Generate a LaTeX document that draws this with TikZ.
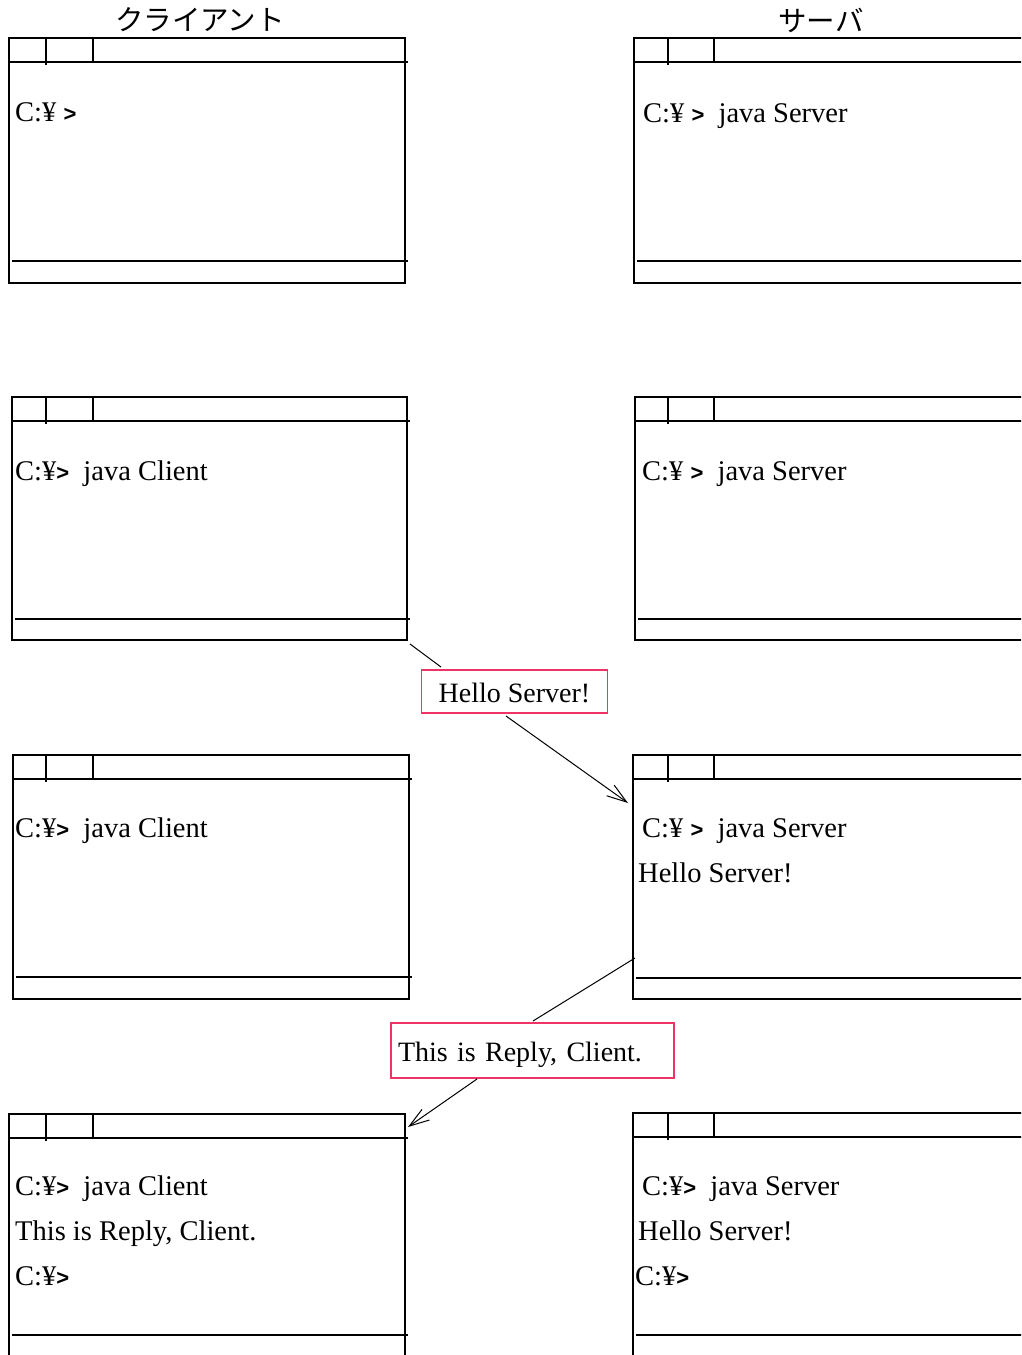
\documentclass[tikz,border=0pt]{standalone}
\usepackage{fontspec}
\setmainfont{Liberation Serif}
\setsansfont{Liberation Sans}
\newfontfamily\jpfont{Noto Sans CJK JP}
\usetikzlibrary{arrows.meta}
\definecolor{msgpink}{RGB}{238,51,102}
\tikzset{
  winbox/.style={draw=black, line width=2pt, inner sep=0pt, outer sep=0pt, anchor=north west},
  winline/.style={draw=black, line width=2pt},
  wtext/.style={anchor=base west, inner sep=0pt, font=\fontsize{28.5}{34}\selectfont},
  title/.style={inner sep=0pt, font=\jpfont\fontsize{28.5}{34}\selectfont},
  msgbox/.style={draw=msgpink, line width=1.6pt, inner ysep=0pt, text height=21pt, text depth=0pt, font=\fontsize{28}{34}\selectfont},
  conn/.style={draw=black, line width=1pt},
  connarrow/.style={conn, -{Straight Barb[length=20pt, width=13pt, line width=1pt]}}
}
\newcommand{\gt}{{\sffamily\bfseries\fontsize{22}{30}\selectfont >}}
% name, left, top, right, bottom, divider1 x, divider2 x, status line y
\newcommand{\mywin}[8]{%
  \node[winbox, minimum width={(#4)-(#2)}, minimum height={(#5)-(#3)}] (#1) at (#2,#3) {};
  \draw[winline] ([xshift=1pt,yshift=-24pt]#1.north west) -- ([xshift=2.5pt,yshift=-24pt]#1.north east);
  \draw[winline] (#6,#3) -- (#6,{(#3)+27});
  \draw[winline] (#7,#3) -- (#7,{(#3)+24});
  \draw[winline] ({(#2)+3},#8) -- ({(#4)+2.5},#8);
}
\begin{document}
\begin{tikzpicture}[x=1pt,y=-1pt]
\useasboundingbox (0,0) rectangle (1021,1355);
\clip (0,0) rectangle (1021,1355);
% titles
\node[title] (tclient) at (200,20) {クライアント};
\node[title] (tserver) at (821,20) {サーバ};
% windows
\mywin{c1}{9}{38}{405}{283}{46}{93}{261}
\mywin{s1}{634}{38}{1045}{283}{668}{714}{261}
\mywin{c2}{12}{397}{407}{640}{46}{93}{619}
\mywin{s2}{635}{397}{1045}{640}{668}{714}{619}
\mywin{c3}{13}{755}{409}{999}{46}{93}{977}
\mywin{s3}{633}{755}{1045}{999}{668}{714}{978}
\mywin{c4}{9}{1114}{405}{1380}{46}{93}{1335}
\mywin{s4}{633}{1113}{1045}{1380}{668}{714}{1335}
% texts
\node[wtext] (c1t1) at (15,121) {C:¥ \gt};
\node[wtext] (s1t1) at (643,122) {C:¥ \gt\ \ java Server};
\node[wtext] (c2t1) at (15,480) {C:¥\gt\ \ java Client};
\node[wtext] (s2t1) at (642,480) {C:¥ \gt\ \ java Server};
\node[wtext] (c3t1) at (15,837) {C:¥\gt\ \ java Client};
\node[wtext] (s3t1) at (642,837) {C:¥ \gt\ \ java Server};
\node[wtext] (s3t2) at (638,882) {Hello Server!};
\node[wtext] (c4t1) at (15,1195) {C:¥\gt\ \ java Client};
\node[wtext] (c4t2) at (15,1240) {This is Reply, Client.};
\node[wtext] (c4t3) at (15,1285) {C:¥\gt};
\node[wtext] (s4t1) at (642,1195) {C:¥\gt\ \ java Server};
\node[wtext] (s4t2) at (638,1240) {Hello Server!};
\node[wtext] (s4t3) at (635,1285) {C:¥\gt};
% message boxes
\node[msgbox, minimum width=186pt, minimum height=43pt] (hello) at (514.5,691.5) {Hello Server!};
\node[msgbox, minimum height=55pt, text width=269pt, inner xsep=7pt, align=left] (reply) at (532.5,1050.5) {This is Reply, Client.};
% connectors
\coordinate (h0) at (410,644);
\coordinate (h1) at (441,667);
\coordinate (h2) at (506,716);
\coordinate (h3) at (628,803);
\draw[conn] (h0) -- (h1);
\draw[connarrow] (h2) -- (h3);
\coordinate (r0) at (635,958);
\coordinate (r1) at (533,1021);
\coordinate (r2) at (477,1079);
\coordinate (r3) at (408,1127);
\draw[conn] (r0) -- (r1);
\draw[connarrow] (r2) -- (r3);
\end{tikzpicture}
\end{document}
